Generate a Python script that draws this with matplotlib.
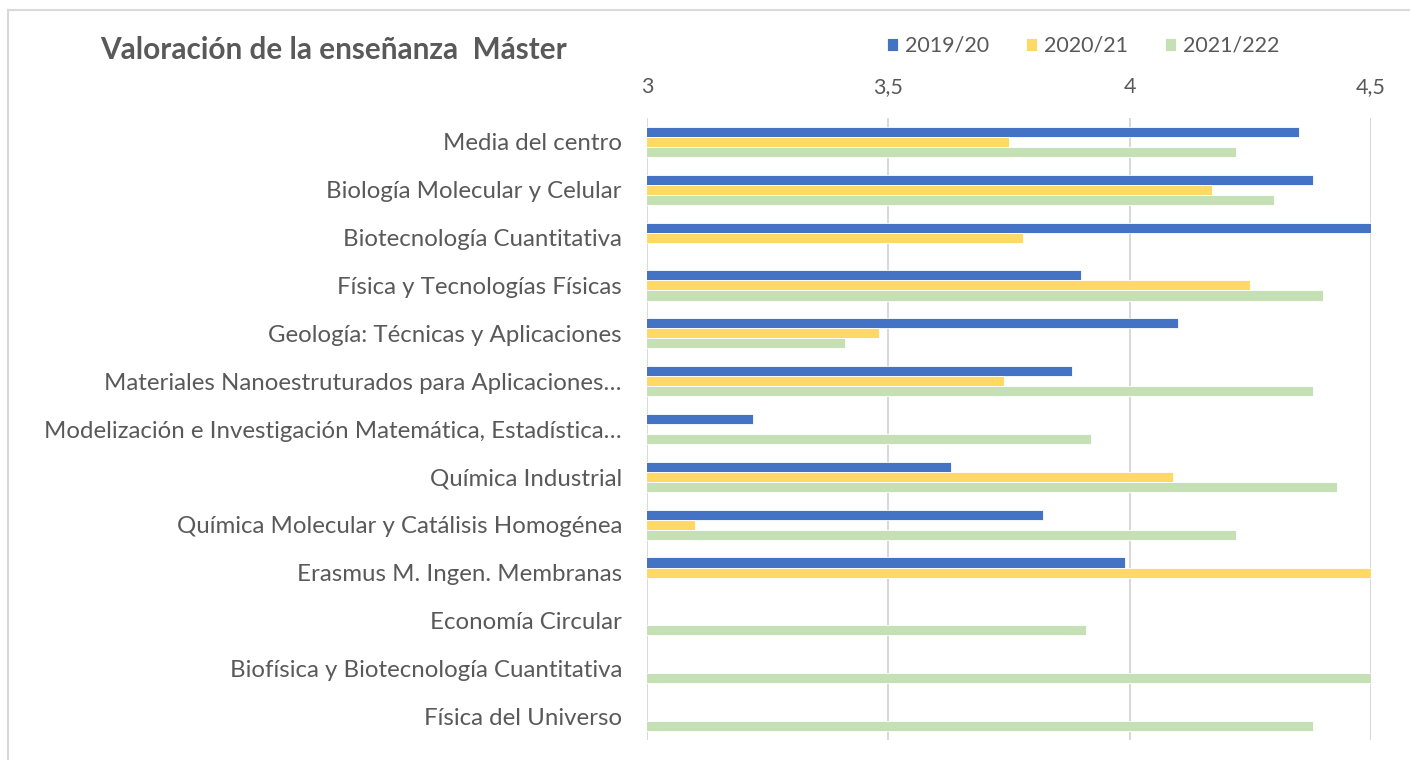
import matplotlib
matplotlib.use('Agg')
import matplotlib.pyplot as plt
import numpy as np

# datos
categorias = ['Media del centro', 'Biología Molecular y Celular', 'Biotecnología Cuantitativa',
              'Física y Tecnologías Físicas', 'Geología: Técnicas y Aplicaciones',
              'Materiales Nanoestruturados para Aplicaciones…',
              'Modelización e Investigación Matemática, Estadística…',
              'Química Industrial', 'Química Molecular y Catálisis Homogénea',
              'Erasmus M. Ingen. Membranas', 'Economía Circular',
              'Biofísica y Biotecnología Cuantitativa', 'Física del Universo']
series = ['2019/20', '2020/21', '2021/222']
v1920 = [4.35, 4.38, 4.56, 3.90, 4.10, 3.88, 3.22, 3.63, 3.82, 3.99, np.nan, np.nan, np.nan]
v2021 = [3.75, 4.17, 3.78, 4.25, 3.48, 3.74, np.nan, 4.09, 3.10, 4.56, np.nan, np.nan, np.nan]
v2122 = [4.22, 4.30, np.nan, 4.40, 3.41, 4.38, 3.92, 4.43, 4.22, np.nan, 3.91, 4.56, 4.38]
ticks = [3, 3.5, 4, 4.5]
tick_labels = ['3', '3,5', '4', '4,5']

colores = ['#4472C4', '#FFD966', '#C5E0B4']
gris = '#595959'
plt.rcParams['font.family'] = ['Lato', 'DejaVu Sans']

fig = plt.figure(figsize=(14.1, 7.6), dpi=100)
ax = fig.add_axes([647/1410, 1-740/760, (1371-647)/1410, (740-118)/760])

y = np.arange(len(categorias))
h = 0.21
for i, (vals, c) in enumerate(zip([v1920, v2021, v2122], colores)):
    ax.barh(y + (i-1)*h, vals, height=h, color=c, edgecolor='white', linewidth=0.6,
            label=series[i], zorder=3)

ax.set_xlim(3, 4.5)
ax.set_ylim(len(categorias)-0.5, -0.5)
ax.xaxis.tick_top()
ax.set_xticks(ticks)
ax.set_xticklabels(tick_labels)
ax.set_yticks(y)
ax.set_yticklabels(categorias)
ax.tick_params(axis='x', length=0, pad=15, labelsize=15.5, labelcolor=gris)
ax.tick_params(axis='y', length=0, pad=18, labelsize=17.3, labelcolor=gris)
ax.grid(axis='x', color='#D9D9D9', linewidth=1.5, zorder=0)
for s in ax.spines.values():
    s.set_visible(False)

fig.text(100/1410, 1-50/760, 'Valoración de la enseñanza  Máster', fontsize=21.4,
         fontweight='bold', color=gris, va='center', ha='left')
fig.legend(loc='center left', bbox_to_anchor=(878/1410, 1-46/760), ncol=3, frameon=False,
           borderaxespad=0, handlelength=0.55, handleheight=0.55, handletextpad=0.3,
           columnspacing=1.7, fontsize=15.5, labelcolor=gris)

# borde del area del grafico
fig.add_artist(plt.Line2D([8/1410, 8/1410], [0, 1-10/760], color='#D9D9D9', linewidth=1.5))
fig.add_artist(plt.Line2D([8/1410, 1], [1-10/760, 1-10/760], color='#D9D9D9', linewidth=1.5))

fig.savefig('out.png', dpi=100)
